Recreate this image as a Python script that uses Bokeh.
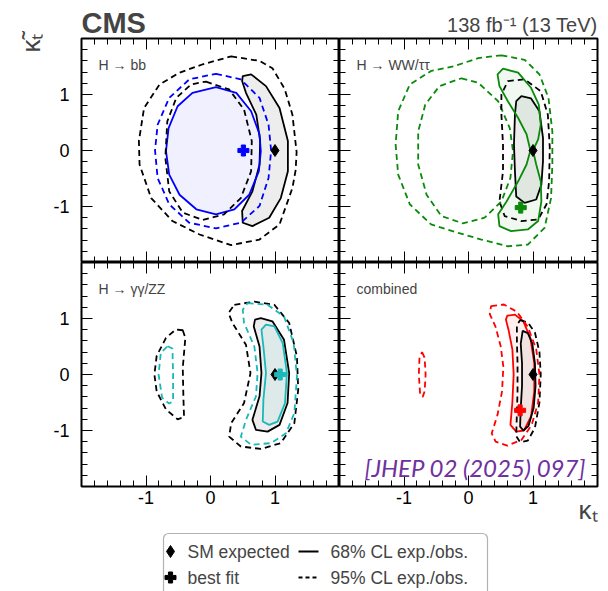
import numpy as np
from bokeh.plotting import figure
from bokeh.models import Range1d, LinearAxis, FixedTicker, Label, BoxAnnotation, Title
from bokeh.layouts import column, row
from bokeh.embed import file_html
from bokeh.resources import INLINE

# ---------------- data ----------------
major_ticks = [-1, 0, 1]
minor_ticks = [-1.8, -1.6, -1.4, -1.2, -0.8, -0.6, -0.4, -0.2,
               0.2, 0.4, 0.6, 0.8, 1.2, 1.4, 1.6, 1.8]
tick_labels = {-1: "-1", 0: "0", 1: "1"}

sm_x, sm_y = [1.0], [0.0]

# H -> bb
bb_exp95_outer_x = [0.32, 0.76, 0.96, 1.15, 1.27, 1.335, 1.32, 1.27, 1.07, 0.76, 0.32, -0.17, -0.59, -0.92, -1.10, -1.11, -1.03, -0.79, -0.48, -0.12]
bb_exp95_outer_y = [1.68, 1.60, 1.47, 1.10, 0.64, -0.03, -0.35, -0.67, -1.32, -1.59, -1.69, -1.50, -1.26, -0.85, -0.25, 0.17, 0.76, 1.18, 1.39, 1.54]
bb_exp95_inner_x = [-0.07, 0.29, 0.52, 0.64, 0.63, 0.47, 0.21, -0.12, -0.43, -0.64, -0.70, -0.67, -0.53, -0.30]
bb_exp95_inner_y = [1.23, 1.09, 0.73, 0.17, -0.37, -0.85, -1.14, -1.24, -1.11, -0.73, -0.13, 0.52, 0.94, 1.18]
bb_exp68_x = [0.50, 0.63, 0.86, 1.07, 1.20, 1.20, 1.09, 0.91, 0.65, 0.50, 0.49, 0.65, 0.76, 0.77, 0.71, 0.55, 0.49]
bb_exp68_y = [1.33, 1.36, 1.15, 0.76, 0.17, -0.37, -0.85, -1.20, -1.35, -1.29, -1.08, -0.73, -0.25, 0.17, 0.64, 1.03, 1.24]
bb_obs68_x = [0.085, 0.40, 0.63, 0.76, 0.78, 0.75, 0.60, 0.37, 0.085, -0.22, -0.48, -0.64, -0.69, -0.65, -0.51, -0.28]
bb_obs68_y = [1.13, 1.03, 0.70, 0.29, -0.01, -0.37, -0.79, -1.05, -1.14, -1.05, -0.79, -0.43, -0.01, 0.40, 0.79, 1.03]
bb_obs95_x = [0.085, 0.47, 0.76, 0.90, 0.94, 0.90, 0.76, 0.47, 0.085, -0.33, -0.64, -0.82, -0.86, -0.82, -0.64, -0.33]
bb_obs95_y = [1.37, 1.27, 0.94, 0.46, 0.0, -0.49, -0.99, -1.29, -1.39, -1.29, -0.96, -0.49, 0.0, 0.46, 0.94, 1.27]
bb_best_x, bb_best_y = [0.51], [0.0]

# H -> WW/tautau
ww_obs95_outer_x = [0.51, 0.87, 1.10, 1.24, 1.30, 1.30, 1.28, 1.18, 0.92, 0.61, 0.20, -0.16, -0.58, -0.91, -1.09, -1.13, -1.09, -0.91, -0.58, -0.21, 0.15]
ww_obs95_outer_y = [1.70, 1.62, 1.36, 0.94, 0.34, -0.25, -0.85, -1.38, -1.68, -1.71, -1.59, -1.47, -1.32, -0.96, -0.43, 0.11, 0.70, 1.18, 1.42, 1.51, 1.65]
ww_obs95_inner_x = [-0.11, 0.15, 0.46, 0.64, 0.69, 0.65, 0.51, 0.25, -0.09, -0.42, -0.65, -0.78, -0.78, -0.67, -0.45]
ww_obs95_inner_y = [1.29, 1.21, 0.88, 0.40, -0.01, -0.49, -0.91, -1.20, -1.30, -1.17, -0.79, -0.25, 0.34, 0.82, 1.15]
ww_obs68_x = [0.535, 0.77, 0.97, 1.09, 1.12, 1.08, 1.0, 1.05, 1.12, 1.13, 1.08, 0.92, 0.66, 0.48, 0.46, 0.59, 0.77, 0.90, 0.96, 0.90, 0.77, 0.61, 0.48, 0.45]
ww_obs68_y = [1.46, 1.39, 1.12, 0.82, 0.46, 0.20, 0.0, -0.25, -0.55, -0.91, -1.26, -1.41, -1.44, -1.35, -1.14, -0.91, -0.55, -0.25, 0.0, 0.29, 0.58, 0.88, 1.15, 1.36]
ww_exp68_x = [0.82, 0.97, 1.10, 1.155, 1.155, 1.13, 1.05, 0.87, 0.74, 0.72, 0.705, 0.72, 0.74]
ww_exp68_y = [0.97, 0.93, 0.70, 0.225, -0.19, -0.61, -0.875, -0.935, -0.82, -0.37, 0.11, 0.64, 0.88]
ww_exp95_x = [0.61, 0.87, 1.12, 1.23, 1.26, 1.25, 1.21, 1.08, 0.82, 0.56, 0.48, 0.535, 0.535, 0.51, 0.51]
ww_exp95_y = [1.24, 1.27, 1.06, 0.64, 0.05, -0.55, -0.96, -1.23, -1.26, -1.17, -0.91, -0.37, 0.11, 0.64, 1.0]
ww_best_x, ww_best_y = [0.81], [-1.02]

# H -> gamma gamma / ZZ
gg_exp95_r_x = [0.37, 0.68, 0.99, 1.22, 1.34, 1.36, 1.30, 1.09, 0.78, 0.47, 0.29, 0.32, 0.52, 0.62, 0.55, 0.34, 0.28]
gg_exp95_r_y = [1.245, 1.30, 1.245, 0.92, 0.32, -0.27, -0.87, -1.225, -1.33, -1.285, -1.11, -0.87, -0.51, 0.025, 0.53, 0.92, 1.10]
gg_obs95_r_x = [0.575, 0.885, 1.14, 1.29, 1.34, 1.30, 1.17, 0.94, 0.63, 0.47, 0.55, 0.705, 0.73, 0.68, 0.52, 0.50]
gg_obs95_r_y = [1.275, 1.245, 1.035, 0.56, -0.035, -0.69, -1.05, -1.225, -1.255, -1.11, -0.81, -0.39, 0.025, 0.50, 0.92, 1.155]
gg_exp68_x = [0.78, 0.96, 1.14, 1.22, 1.195, 1.07, 0.885, 0.705, 0.65, 0.76, 0.79, 0.76, 0.67, 0.69]
gg_exp68_y = [1.005, 0.95, 0.62, 0.025, -0.51, -0.90, -1.02, -0.99, -0.81, -0.39, 0.025, 0.50, 0.86, 0.98]
gg_obs68_x = [0.86, 0.99, 1.12, 1.185, 1.155, 1.04, 0.91, 0.81, 0.82, 0.86, 0.82, 0.79]
gg_obs68_y = [0.89, 0.86, 0.56, 0.025, -0.51, -0.84, -0.90, -0.84, -0.45, 0.025, 0.50, 0.80]
gg_exp95_l_x = [-0.43, -0.39, -0.43, -0.42, -0.41, -0.51, -0.69, -0.835, -0.87, -0.835, -0.69, -0.535]
gg_exp95_l_y = [0.79, 0.655, 0.12, -0.415, -0.76, -0.80, -0.625, -0.30, 0.0, 0.33, 0.655, 0.805]
gg_obs95_l_x = [-0.665, -0.59, -0.58, -0.58, -0.64, -0.75, -0.805, -0.77]
gg_obs95_l_y = [0.505, 0.465, 0.0, -0.475, -0.52, -0.415, 0.0, 0.39]
gg_best_x, gg_best_y = [1.08], [0.0]

# combined
cb_exp95_x = [0.80, 0.92, 1.03, 1.10, 1.12, 1.10, 1.03, 0.92, 0.80, 0.74, 0.75, 0.76, 0.76, 0.75, 0.75]
cb_exp95_y = [0.97, 0.93, 0.75, 0.40, 0.0, -0.50, -0.95, -1.18, -1.21, -1.10, -0.70, -0.30, 0.20, 0.60, 0.88]
cb_exp68_x = [0.84, 0.92, 0.99, 1.03, 1.04, 1.01, 0.93, 0.85, 0.80, 0.81, 0.83, 0.83, 0.81]
cb_exp68_y = [0.78, 0.74, 0.55, 0.20, -0.20, -0.60, -0.92, -1.00, -0.93, -0.60, -0.20, 0.20, 0.55]
cb_obs68_x = [0.60, 0.72, 0.85, 0.96, 1.02, 1.02, 0.97, 0.86, 0.74, 0.65, 0.68, 0.70, 0.68, 0.62, 0.58]
cb_obs68_y = [1.05, 1.07, 0.95, 0.65, 0.20, -0.30, -0.75, -1.00, -1.02, -0.90, -0.50, 0.0, 0.45, 0.80, 0.98]
cb_obs95_x = [0.35, 0.55, 0.75, 0.92, 1.05, 1.10, 1.08, 0.98, 0.82, 0.60, 0.42, 0.36, 0.45, 0.52, 0.54, 0.50, 0.42, 0.33]
cb_obs95_y = [1.22, 1.25, 1.12, 0.85, 0.45, 0.0, -0.50, -0.90, -1.17, -1.27, -1.20, -1.05, -0.72, -0.30, 0.14, 0.50, 0.85, 1.08]
cb_obs95_l_x = [-0.72, -0.68, -0.665, -0.68, -0.71, -0.75, -0.77, -0.76]
cb_obs95_l_y = [0.40, 0.30, 0.0, -0.30, -0.40, -0.35, 0.0, 0.30]
cb_best_x, cb_best_y = [0.80], [-0.64]

# ---------------- style ----------------
FONT = "Liberation Sans"
FW, FH = 258, 224
BB = 46  # bottom border of lower panels
BLUE, GREEN, CYAN, RED = "#0000ff", "#0a8a0a", "#1ab8b8", "#ff0000"
DASH = "6 4"
LW = 1.8


def add_axes(p, label_left, label_bottom):
    for side in ["left", "right", "above", "below"]:
        ax = LinearAxis(ticker=FixedTicker(ticks=major_ticks, minor_ticks=minor_ticks))
        ax.axis_line_color = None
        ax.major_tick_in, ax.major_tick_out = 11, 0
        ax.minor_tick_in, ax.minor_tick_out = 6, 0
        ax.major_tick_line_color = "black"
        ax.minor_tick_line_color = "black"
        ax.major_label_overrides = tick_labels
        show = (side == "left" and label_left) or (side == "below" and label_bottom)
        if show:
            ax.major_label_text_font = FONT
            ax.major_label_text_font_size = "18px"
            ax.major_label_text_color = "black"
            ax.major_label_standoff = 12 if side == "left" else 4
        else:
            ax.major_label_text_font_size = "0px"
            ax.major_label_text_alpha = 0
            ax.major_label_standoff = 0
        p.add_layout(ax, side)


def panel(bl, br, bt, bb, label_left, label_bottom, title):
    p = figure(width=bl + FW + br, height=bt + FH + bb,
               x_range=Range1d(-2, 2), y_range=Range1d(-2, 2),
               x_axis_type=None, y_axis_type=None,
               output_backend="svg", toolbar_location=None,
               min_border_left=bl, min_border_right=br,
               min_border_top=bt, min_border_bottom=bb)
    p.outline_line_color = "black"
    p.outline_line_width = 2
    p.outline_line_alpha = 1
    add_axes(p, label_left, label_bottom)
    p.add_layout(Label(x=17, y=FH - 26, x_units="screen", y_units="screen",
                       text=title, text_font=FONT, text_font_size="14px",
                       text_baseline="alphabetic"))
    return p


def region(p, xs, ys, color, fill, alpha):
    p.patch(xs, ys, fill_color=fill, fill_alpha=alpha, line_color=color, line_width=LW)


def dashed(p, xs, ys, color):
    p.patch(xs, ys, fill_color=None, line_color=color, line_width=LW, line_dash=DASH)


def markers(p, bx, by, color):
    p.scatter(sm_x, sm_y, marker="diamond", size=12, color="black")
    p.scatter(bx, by, marker="plus", size=11, color=color)


# top-left: H -> bb
tl = panel(81, 0, 38, 0, True, False, "H \u2192 bb")
region(tl, bb_exp68_x, bb_exp68_y, "black", "black", 0.07)
region(tl, bb_obs68_x, bb_obs68_y, BLUE, BLUE, 0.06)
dashed(tl, bb_exp95_outer_x, bb_exp95_outer_y, "black")
dashed(tl, bb_exp95_inner_x, bb_exp95_inner_y, "black")
dashed(tl, bb_obs95_x, bb_obs95_y, BLUE)
markers(tl, bb_best_x, bb_best_y, BLUE)

# top-right: H -> WW/tautau
tr = panel(0, 11, 38, 0, False, False, "H \u2192 WW/\u03c4\u03c4")
dashed(tr, ww_obs95_outer_x, ww_obs95_outer_y, GREEN)
dashed(tr, ww_obs95_inner_x, ww_obs95_inner_y, GREEN)
region(tr, ww_exp68_x, ww_exp68_y, "black", "black", 0.07)
dashed(tr, ww_exp95_x, ww_exp95_y, "black")
region(tr, ww_obs68_x, ww_obs68_y, GREEN, GREEN, 0.06)
markers(tr, ww_best_x, ww_best_y, GREEN)

# bottom-left: H -> gamma gamma / ZZ
bl = panel(81, 0, 0, BB, True, True, "H \u2192 \u03b3\u03b3/ZZ")
region(bl, gg_exp68_x, gg_exp68_y, "black", "black", 0.07)
region(bl, gg_obs68_x, gg_obs68_y, CYAN, CYAN, 0.07)
dashed(bl, gg_exp95_r_x, gg_exp95_r_y, "black")
dashed(bl, gg_obs95_r_x, gg_obs95_r_y, CYAN)
dashed(bl, gg_exp95_l_x, gg_exp95_l_y, "black")
dashed(bl, gg_obs95_l_x, gg_obs95_l_y, CYAN)
markers(bl, gg_best_x, gg_best_y, CYAN)

# bottom-right: combined
br = panel(0, 11, 0, BB, False, True, "combined")
region(br, cb_obs68_x, cb_obs68_y, RED, RED, 0.06)
region(br, cb_exp68_x, cb_exp68_y, "black", "black", 0.05)
dashed(br, cb_exp95_x, cb_exp95_y, "black")
dashed(br, cb_obs95_x, cb_obs95_y, RED)
dashed(br, cb_obs95_l_x, cb_obs95_l_y, RED)
markers(br, cb_best_x, cb_best_y, RED)
br.add_layout(Label(x=25, y=5, x_units="screen", y_units="screen",
                    text="[JHEP 02 (2025) 097]", text_font="Lato",
                    text_font_style="italic", text_font_size="24px",
                    text_color="#7030a0", text_baseline="bottom"))

# headers and axis titles (side panels, so they are not clipped)
tl.add_layout(Title(text="CMS", align="left", offset=0, standoff=0,
                    text_font=FONT, text_font_style="bold", text_font_size="29px"), "above")
tr.add_layout(Title(text="138 fb\u207b\u00b9 (13 TeV)", align="right", offset=0, standoff=6,
                    text_font=FONT, text_font_style="normal", text_font_size="20px"), "above")
tl.add_layout(Title(text="\u03ba\u0303\u209c", align="right", offset=-5, standoff=10,
                    text_font=FONT, text_font_style="normal", text_font_size="26px"), "left")
br.add_layout(Title(text="\u03ba\u209c", align="right", offset=0, standoff=-24,
                    vertical_align="top",
                    text_font=FONT, text_font_style="normal", text_font_size="26px"), "below")

# legend panel
LH = 591 - (38 + FH) - (FH + BB)
leg = figure(width=608, height=LH, x_range=Range1d(0, 608), y_range=Range1d(0, LH),
             x_axis_type=None, y_axis_type=None, output_backend="svg",
             toolbar_location=None, min_border=0)
leg.outline_line_color = None
leg.add_layout(BoxAnnotation(left=163, right=487, top=LH - 1, bottom=-20,
                             fill_color=None, line_color="black", line_width=1.2,
                             border_radius=5))
row1, row2 = 591 - 551, 591 - 577
leg.scatter([170], [row1], marker="diamond", size=12, color="black")
leg.scatter([170], [row2], marker="plus", size=11, color="black")
leg.line([298, 318], [row1, row1], line_color="black", line_width=LW)
leg.line([298, 318], [row2, row2], line_color="black", line_width=LW, line_dash="4 3")
for tx, ty, tt in [(187, row1, "SM expected"), (187, row2, "best fit"),
                   (330, row1, "68% CL exp./obs."), (330, row2, "95% CL exp./obs.")]:
    leg.add_layout(Label(x=tx, y=ty, text=tt, text_font=FONT, text_font_size="17.5px",
                         text_baseline="middle"))

layout = column(row(tl, tr), row(bl, br), leg)
open("out.html", "w").write(file_html(layout, INLINE))
